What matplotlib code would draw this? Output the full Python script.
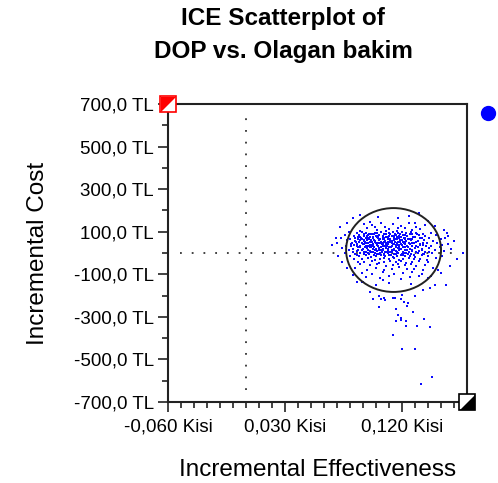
import matplotlib
matplotlib.use('Agg')
import matplotlib.pyplot as plt
from matplotlib.patches import Ellipse
from matplotlib.ticker import MultipleLocator, FixedLocator, FuncFormatter
import numpy as np

plt.rcParams['font.family'] = ['Liberation Sans', 'DejaVu Sans']

# dense core of the cloud, row by row (effectiveness in Kisi, cost in TL)
core_eff = [
    0.079, 0.085, 0.089, 0.092, 0.096, 0.099, 0.101, 0.104, 0.108, 0.110, 0.113, 0.117, 0.120, 0.123, 0.127, 0.131, 0.136, 0.142,
    0.076, 0.083, 0.087, 0.091, 0.094, 0.097, 0.100, 0.102, 0.105, 0.107, 0.110, 0.112, 0.115, 0.118, 0.121, 0.124, 0.128, 0.133, 0.138, 0.146,
    0.073, 0.080, 0.086, 0.089, 0.092, 0.095, 0.098, 0.101, 0.103, 0.106, 0.108, 0.111, 0.114, 0.116, 0.119, 0.122, 0.126, 0.130, 0.135, 0.141, 0.150,
    0.078, 0.084, 0.088, 0.091, 0.093, 0.096, 0.099, 0.102, 0.104, 0.107, 0.109, 0.112, 0.114, 0.117, 0.120, 0.123, 0.127, 0.132, 0.137, 0.144,
    0.070, 0.081, 0.087, 0.090, 0.094, 0.097, 0.100, 0.103, 0.105, 0.108, 0.111, 0.113, 0.116, 0.119, 0.121, 0.125, 0.129, 0.134, 0.139, 0.147, 0.155,
    0.066, 0.077, 0.083, 0.088, 0.092, 0.095, 0.098, 0.101, 0.104, 0.106, 0.109, 0.112, 0.115, 0.118, 0.120, 0.124, 0.128, 0.131, 0.136, 0.142, 0.149,
    0.074, 0.082, 0.086, 0.090, 0.093, 0.096, 0.100, 0.102, 0.105, 0.108, 0.110, 0.114, 0.117, 0.119, 0.122, 0.126, 0.130, 0.135, 0.141, 0.158,
    0.079, 0.085, 0.089, 0.092, 0.095, 0.099, 0.101, 0.104, 0.107, 0.109, 0.112, 0.115, 0.118, 0.121, 0.124, 0.128, 0.133, 0.138, 0.145, 0.152,
    0.076, 0.084, 0.088, 0.091, 0.094, 0.098, 0.101, 0.103, 0.106, 0.109, 0.111, 0.114, 0.117, 0.120, 0.123, 0.127, 0.132, 0.137, 0.143, 0.167,
    0.080, 0.087, 0.092, 0.096, 0.100, 0.104, 0.107, 0.110, 0.113, 0.116, 0.119, 0.122, 0.126, 0.130, 0.135, 0.140, 0.151,
    0.083, 0.089, 0.094, 0.099, 0.103, 0.106, 0.110, 0.114, 0.118, 0.121, 0.125, 0.129, 0.134, 0.139, 0.146,
    0.086, 0.091, 0.097, 0.102, 0.106, 0.111, 0.115, 0.119, 0.123, 0.128, 0.133, 0.140,
    0.088, 0.095, 0.101, 0.108, 0.113, 0.117, 0.122, 0.127, 0.131, 0.138, 0.157,
    0.084, 0.093, 0.100, 0.106, 0.112, 0.118, 0.124, 0.129, 0.136, 0.144,
    0.089, 0.097, 0.105, 0.114, 0.121, 0.128, 0.135, 0.150,
    0.092, 0.103, 0.110, 0.119, 0.126, 0.133, 0.140,
    0.0880, 0.0930, 0.0975, 0.1015, 0.1055, 0.1095, 0.1135, 0.1165, 0.1195, 0.1235, 0.1285,
    0.0860, 0.0905, 0.0945, 0.0985, 0.1025, 0.1065, 0.1105, 0.1145, 0.1185, 0.1225, 0.1275,
    0.0845, 0.0915, 0.0955, 0.0995, 0.1035, 0.1065, 0.1095, 0.1145, 0.1185, 0.1225, 0.1305,
    0.0855, 0.0905, 0.0965, 0.1005, 0.1045, 0.1075, 0.1135, 0.1165, 0.1225, 0.1265, 0.1335,
    0.0875, 0.0915, 0.0955, 0.0985, 0.1035, 0.1075, 0.1115, 0.1155, 0.1205, 0.1245, 0.1325,
    0.0865, 0.0935, 0.0975, 0.1025, 0.1055, 0.1095, 0.1135, 0.1185, 0.1225, 0.1275, 0.1355,
    0.0905, 0.0945, 0.0985, 0.1025, 0.1065, 0.1105, 0.1145, 0.1185, 0.1225, 0.1265, 0.1315, 0.1365,
    0.0835, 0.0885, 0.0935, 0.0975, 0.1015, 0.1055, 0.1095, 0.1135, 0.1175, 0.1215, 0.1245, 0.1335,
    0.0815, 0.0895, 0.0925, 0.0975, 0.1015, 0.1055, 0.1095, 0.1125, 0.1165, 0.1215, 0.1275, 0.1365,
    0.0805, 0.0855, 0.0935, 0.0965, 0.1015, 0.1055, 0.1085, 0.1125, 0.1175, 0.1235, 0.1305, 0.1385,
    0.0825, 0.0905, 0.0965, 0.0995, 0.1045, 0.1085, 0.1125, 0.1165, 0.1215, 0.1255, 0.1305, 0.1405,
    0.0855, 0.0945, 0.0985, 0.1025, 0.1065, 0.1115, 0.1155, 0.1205, 0.1245, 0.1295, 0.1365,
]
core_cost = [
    97, 92, 99, 94, 90, 96, 93, 98, 91, 95, 100, 92, 97, 93, 99, 94, 91, 96,
    84, 80, 86, 79, 83, 88, 81, 85, 78, 87, 82, 80, 86, 79, 84, 81, 88, 83, 80, 85,
    72, 68, 74, 66, 71, 75, 69, 73, 67, 70, 76, 68, 72, 65, 74, 70, 67, 73, 69, 71, 66,
    60, 56, 62, 55, 59, 63, 57, 61, 54, 58, 64, 56, 60, 53, 62, 57, 59, 55, 61, 58,
    48, 44, 50, 43, 47, 51, 45, 49, 42, 46, 52, 44, 48, 41, 50, 45, 47, 43, 49, 46, 42,
    36, 32, 38, 31, 35, 39, 33, 37, 30, 34, 40, 32, 36, 29, 38, 33, 35, 31, 37, 34, 30,
    24, 20, 26, 19, 23, 27, 21, 25, 18, 22, 28, 20, 24, 17, 26, 21, 23, 19, 25, 20,
    12, 8, 14, 7, 11, 15, 9, 13, 6, 10, 16, 8, 12, 5, 14, 9, 11, 7, 13, 10,
    0, -4, 2, -5, -1, 3, -3, 1, -6, -2, 4, -4, 0, -7, 2, -3, -1, -5, 1, 2,
    -12, -16, -10, -17, -13, -9, -15, -11, -18, -14, -8, -16, -12, -19, -10, -15, -13,
    -26, -30, -24, -31, -27, -23, -29, -25, -32, -28, -22, -30, -26, -33, -24,
    -40, -44, -38, -45, -41, -37, -43, -39, -46, -42, -36, -44,
    -54, -58, -52, -59, -55, -51, -57, -53, -60, -56, -62,
    -72, -78, -70, -80, -74, -68, -77, -73, -81, -71,
    -92, -98, -90, -100, -94, -88, -97, -94,
    -112, -118, -110, -120, -114, -108, -116,
    76, 78, 75, 79, 77, 74, 78, 76, 75, 79, 77,
    64, 63, 66, 62, 65, 64, 63, 66, 62, 65, 64,
    52, 51, 53, 50, 54, 52, 51, 53, 50, 52, 54,
    40, 41, 39, 42, 40, 38, 41, 39, 42, 40, 38,
    28, 27, 29, 26, 28, 30, 27, 29, 26, 28, 27,
    16, 15, 17, 14, 16, 18, 15, 17, 14, 16, 15,
    89, 87, 90, 86, 88, 91, 87, 89, 86, 90, 88, 87,
    70, 71, 69, 72, 70, 68, 71, 69, 72, 70, 68, 71,
    46, 45, 47, 44, 46, 48, 45, 47, 44, 46, 45, 47,
    34, 35, 33, 36, 34, 32, 35, 33, 36, 34, 33, 35,
    4, 3, 5, 2, 4, 6, 3, 5, 2, 4, 3, 5,
    -8, -7, -9, -6, -8, -10, -7, -9, -6, -8, -7,
]

# sparse points around the core
halo_eff = [0.088, 0.093, 0.097, 0.101, 0.104, 0.107, 0.110, 0.113, 0.116, 0.119, 0.122, 0.125, 0.128, 0.131,
            0.134, 0.099, 0.108, 0.117, 0.138, 0.091,
            0.072, 0.078, 0.082, 0.088, 0.125, 0.140, 0.145, 0.152, 0.074, 0.078, 0.082, 0.090, 0.100, 0.110,
            0.127, 0.142, 0.148, 0.155, 0.160, 0.162, 0.069, 0.071,
            0.1015, 0.1169, 0.1331, 0.0954, 0.130, 0.1546, 0.153, 0.151]
halo_cost = [104, 118, 131, 109, 142, 122, 113, 136, 105, 127, 116, 139, 108, 124,
             112, 121, 103, 119, 131, 138,
             120, 140, 165, 178, 175, 150, 125, 110, -40, -70, -105, -135, -150, -140,
             -145, -110, -80, 80, 55, -30, 70, -15,
             169, 164, 188, 146, 141, 94, 70, 38]

# downward tail
tail_eff = [0.0977, 0.1023, 0.1038, 0.1062, 0.1131, 0.1146, 0.1192, 0.1200, 0.1300, 0.1215, 0.1238, 0.1023,
            0.1154, 0.1285, 0.1169, 0.1192, 0.1192, 0.1154, 0.1231, 0.1369, 0.1231, 0.1315, 0.1415, 0.1131,
            0.1200, 0.1300, 0.1431, 0.1346, 0.0954, 0.0854, 0.0892, 0.1054, 0.1362, 0.1415, 0.1454, 0.1538,
            0.1500, 0.1246, 0.1069]
tail_cost = [-216, -202, -216, -211, -211, -211, -216, -197, -202, -230, -249, -254,
             -263, -277, -291, -305, -315, -319, -319, -310, -343, -343, -348, -385,
             -451, -451, -583, -615, -183, -136, -136, -127, -174, -164, -150, -150,
             -94, -235, -221]

# confidence ellipse
ell_center = (0.1135, 14)
ell_width = 0.073
ell_height = 394

x_ticks = [-0.060, 0.030, 0.120]
x_min, x_max = -0.060, 0.170
y_min, y_max = -700, 700

fig = plt.figure(figsize=(4.98, 4.83), dpi=100)
ax = fig.add_axes([0.3373, 0.1677, 0.6005, 0.6170])

eff = core_eff + halo_eff + tail_eff
cost = core_cost + halo_cost + tail_cost
ax.scatter(eff, cost, s=4.5, marker='s', color='#0a0aff', linewidths=0, zorder=3)

ax.add_patch(Ellipse(ell_center, ell_width, ell_height, fill=False,
                     edgecolor='#222222', linewidth=1.4, zorder=4))

ax.axhline(0, xmin=0.04, xmax=0.97, color='#333333', linewidth=1.3,
           linestyle=(0, (1, 5.5)), zorder=2)
ax.axvline(0, ymin=0.04, ymax=0.96, color='#333333', linewidth=1.3,
           linestyle=(0, (1, 5.5)), zorder=2)

# corner markers (half filled squares)
ax.plot(x_min, y_max, marker='s', markersize=12, mfc='white', mec='red', mew=1.2,
        clip_on=False, zorder=6)
ax.plot(x_min, y_max, marker=[(-1, -1), (-1, 1), (1, 1), (-1, -1)], markersize=11,
        color='red', mew=0, clip_on=False, zorder=6)
ax.plot(x_max, y_min, marker='s', markersize=12, mfc='white', mec='black', mew=1.2,
        clip_on=False, zorder=6)
ax.plot(x_max, y_min, marker=[(-1, -1), (1, 1), (1, -1), (-1, -1)], markersize=11,
        color='black', mew=0, clip_on=False, zorder=6)
ax.plot(0.186, 658, marker='o', markersize=10, color='#0000ff', clip_on=False, zorder=6)

ax.set_xlim(x_min, x_max)
ax.set_ylim(y_min, y_max)

ax.xaxis.set_major_locator(FixedLocator(x_ticks))
ax.xaxis.set_minor_locator(MultipleLocator(0.01))
ax.yaxis.set_major_locator(MultipleLocator(200, offset=100))
ax.yaxis.set_minor_locator(MultipleLocator(100))
ax.xaxis.set_major_formatter(FuncFormatter(lambda v, p: ('%.3f' % v).replace('.', ',') + ' Kisi'))
ax.yaxis.set_major_formatter(FuncFormatter(lambda v, p: ('%.1f' % v).replace('.', ',') + ' TL'))

ax.tick_params(which='major', length=7, width=1.2, labelsize=13.5, pad=3, color='#222222')
ax.tick_params(axis='x', which='major', pad=5)
ax.tick_params(which='minor', length=4, width=1.2, color='#222222')
for s in ax.spines.values():
    s.set_linewidth(1.5)
    s.set_color('#222222')

ax.set_xlabel('Incremental Effectiveness', fontsize=17.5, labelpad=17)
ax.set_ylabel('Incremental Cost', fontsize=17.5, labelpad=18)

fig.text(0.569, 0.962, 'ICE Scatterplot of', ha='center', va='center',
         fontsize=17.5, fontweight='bold')
fig.text(0.569, 0.894, 'DOP vs. Olagan bakim', ha='center', va='center',
         fontsize=17.5, fontweight='bold')

fig.savefig('out.png', dpi=100)
plt.close()
